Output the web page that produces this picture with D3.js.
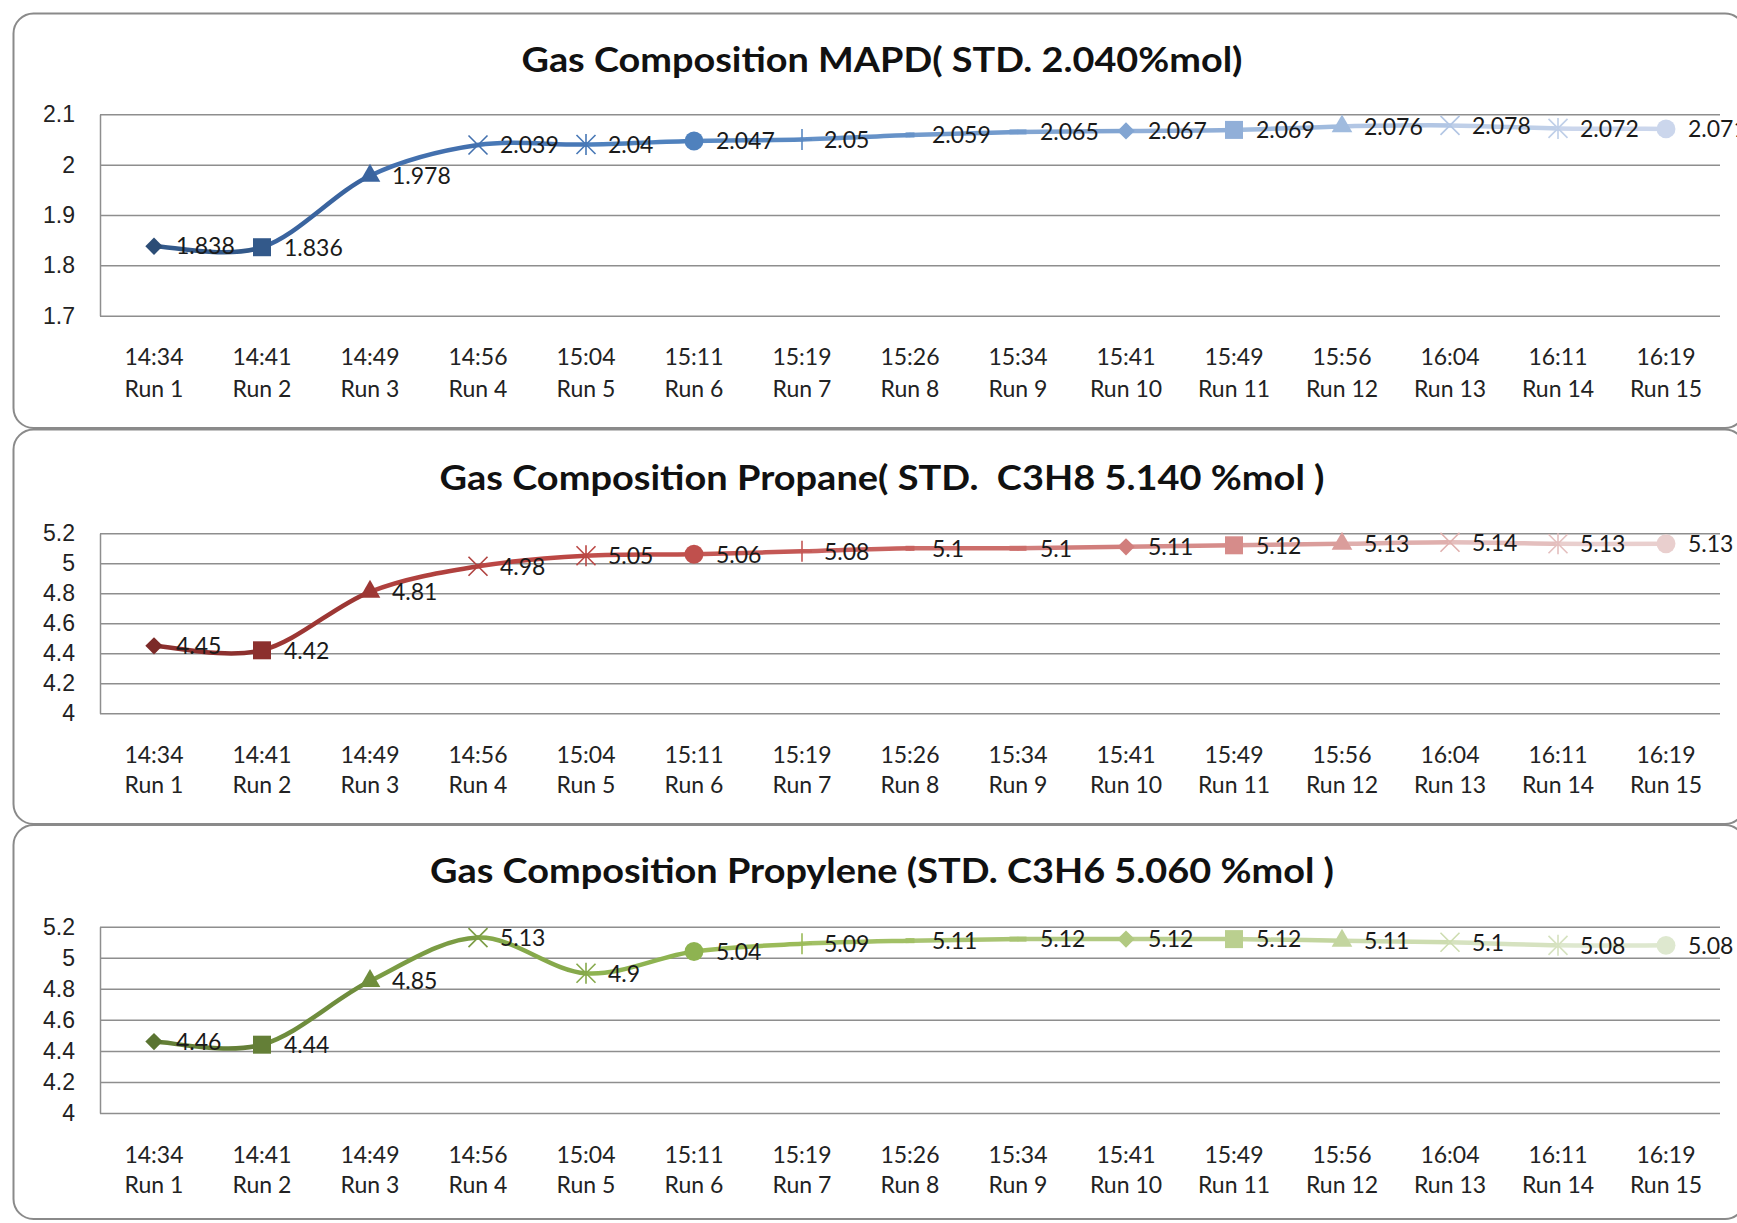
<!DOCTYPE html>
<html>
<head>
<meta charset="utf-8">
<script src="https://cdnjs.cloudflare.com/ajax/libs/d3/7.8.5/d3.min.js"></script>
<style>
    html, body { margin: 0; padding: 0; background: #fff; overflow: hidden; }
    svg { display: block; font-family: Lato, "Open Sans", sans-serif; }
    .grid line { stroke: #8e8e8e; stroke-width: 1.5; }
    .grid path { stroke: #8e8e8e; stroke-width: 1.5; }
    .grid text { fill: #222; font-size: 23px; }
</style>
</head>
<body>
<svg></svg>
<script>
// chart data
const times = ["14:34", "14:41", "14:49", "14:56", "15:04", "15:11", "15:19", "15:26",
    "15:34", "15:41", "15:49", "15:56", "16:04", "16:11", "16:19"];
const runs = ["Run 1", "Run 2", "Run 3", "Run 4", "Run 5", "Run 6", "Run 7", "Run 8",
    "Run 9", "Run 10", "Run 11", "Run 12", "Run 13", "Run 14", "Run 15"];

const mapdValues = [1.838, 1.836, 1.978, 2.039, 2.04, 2.047, 2.05, 2.059,
    2.065, 2.067, 2.069, 2.076, 2.078, 2.072, 2.071];
const propaneValues = [4.45, 4.42, 4.81, 4.98, 5.05, 5.06, 5.08, 5.1,
    5.1, 5.11, 5.12, 5.13, 5.14, 5.13, 5.13];
const propyleneValues = [4.46, 4.44, 4.85, 5.13, 4.9, 5.04, 5.09, 5.11,
    5.12, 5.12, 5.12, 5.11, 5.1, 5.08, 5.08];

const mapdTicks = [1.7, 1.8, 1.9, 2, 2.1];
const gasTicks = [4, 4.2, 4.4, 4.6, 4.8, 5, 5.2];

const mapdTitle = "Gas Composition MAPD( STD. 2.040%mol)";
const propaneTitle = "Gas Composition Propane( STD.  C3H8 5.140 %mol )";
const propyleneTitle = "Gas Composition Propylene (STD. C3H6 5.060 %mol )";

// excel style marker cycle and "vary colors by point" palettes
const markerTypes = ["diamond", "square", "triangle", "x", "star", "circle", "plus", "dash",
    "longdash", "diamond", "square", "triangle", "x", "star", "circle"];

const bluePalette = ["#2c4d76", "#33598a", "#3a649f", "#4370ae", "#4878b6", "#4f81bd", "#5a89c2",
    "#6692c8", "#739bcd", "#82a5d2", "#91afd8", "#a0bbde", "#b2c6e4", "#bfcfe8", "#cbd6ec"];
const redPalette = ["#7c2a28", "#8c302e", "#9d3734", "#b0413e", "#bb4744", "#c0504d", "#c45855",
    "#c8625f", "#cc6e6b", "#d17e7c", "#d68c8a", "#da9d9b", "#dfafad", "#e4bfbe", "#e9cfce"];
const greenPalette = ["#5a7431", "#647f37", "#6f8d3d", "#7b9c44", "#86a94b", "#8eb351", "#9bbb59",
    "#a2c066", "#a9c473", "#b1c981", "#bacf8f", "#c3d59f", "#cddcb0", "#d6e2c0", "#dee8cf"];

let width = 1737;
let height = 1223;

let svg = d3.select("svg")
    .attr("width", width)
    .attr("height", height);

// x positions shared by the three panels
let x = d3.scalePoint()
    .domain(runs)
    .range([100, 1720])
    .padding(0.5);

let panels = [
    { title: mapdTitle, titleLen: 721, values: mapdValues, ticks: mapdTicks, palette: bluePalette,
      top: 13.5, bottom: 428, plotTop: 114.3, plotBottom: 315.7, titleY: 72, timeY: 365, runY: 397 },
    { title: propaneTitle, titleLen: 885, values: propaneValues, ticks: gasTicks, palette: redPalette,
      top: 429.5, bottom: 824, plotTop: 533.3, plotBottom: 713.3, titleY: 490, timeY: 763, runY: 793 },
    { title: propyleneTitle, titleLen: 904, values: propyleneValues, ticks: gasTicks, palette: greenPalette,
      top: 825, bottom: 1219, plotTop: 926.7, plotBottom: 1113, titleY: 883, timeY: 1163, runY: 1193 }
];

panels.forEach(drawPanel);

function drawPanel(p) {
    let group = svg.append("g");

    // rounded frame
    group.append("rect")
        .attr("x", 13.5)
        .attr("y", p.top)
        .attr("width", 1745 - 13.5)
        .attr("height", p.bottom - p.top)
        .attr("rx", 20)
        .attr("fill", "#fff")
        .attr("stroke", "#8a8a8a")
        .attr("stroke-width", 2);

    group.append("text")
        .attr("x", 882)
        .attr("y", p.titleY)
        .attr("text-anchor", "middle")
        .attr("textLength", p.titleLen)
        .attr("lengthAdjust", "spacingAndGlyphs")
        .style("white-space", "pre")
        .style("font-weight", "bold")
        .style("font-size", "35px")
        .attr("fill", "#111")
        .text(p.title);

    let y = d3.scaleLinear()
        .domain([d3.min(p.ticks), d3.max(p.ticks)])
        .range([p.plotBottom, p.plotTop]);

    // gridlines + y labels
    group.append("g")
        .attr("class", "grid")
        .attr("transform", "translate(100,0)")
        .call(d3.axisLeft(y)
            .tickValues(p.ticks)
            .tickSize(-1620)
            .tickSizeOuter(0)
            .tickPadding(25)
            .tickFormat(d3.format("~g")));

    // category labels
    let cats = group.append("g")
        .selectAll("text")
        .data(runs)
        .enter()
        .append("text")
        .attr("text-anchor", "middle")
        .attr("fill", "#222")
        .style("font-size", "23px");
    cats.append("tspan")
        .attr("x", d => x(d))
        .attr("y", p.timeY)
        .text((d, i) => times[i]);
    cats.append("tspan")
        .attr("x", d => x(d))
        .attr("y", p.runY)
        .text(d => d);

    let pts = p.values.map((v, i) => [x(runs[i]), y(v)]);
    let n = pts.length;

    // smoothed line, one segment per point so each takes that point's colour
    for (let i = 0; i < n - 1; i++) {
        let p0 = pts[Math.max(i - 1, 0)], p1 = pts[i], p2 = pts[i + 1], p3 = pts[Math.min(i + 2, n - 1)];
        let seg = d3.path();
        seg.moveTo(p1[0], p1[1]);
        seg.bezierCurveTo(
            p1[0] + (p2[0] - p0[0]) / 6, p1[1] + (p2[1] - p0[1]) / 6,
            p2[0] - (p3[0] - p1[0]) / 6, p2[1] - (p3[1] - p1[1]) / 6,
            p2[0], p2[1]);
        group.append("path")
            .attr("d", seg.toString())
            .attr("fill", "none")
            .attr("stroke", p.palette[i + 1])
            .attr("stroke-width", 4.5)
            .attr("stroke-linecap", "round");
    }

    // markers
    pts.forEach((pt, i) => {
        let m = group.append("g").attr("transform", "translate(" + pt[0] + "," + pt[1] + ")");
        drawMarker(m, markerTypes[i], p.palette[i]);
    });

    // data labels, right of the point
    group.append("g")
        .selectAll("text")
        .data(p.values)
        .enter()
        .append("text")
        .attr("x", (d, i) => pts[i][0] + 22)
        .attr("y", (d, i) => pts[i][1])
        .attr("dy", "0.36em")
        .attr("fill", "#1a1a1a")
        .style("font-size", "23px")
        .text(d => String(d));
}

function drawMarker(m, type, color) {
    if (type === "diamond") {
        m.append("path").attr("d", d3.symbol(d3.symbolSquare, 150)())
            .attr("transform", "rotate(45)").attr("fill", color);
    } else if (type === "square") {
        m.append("path").attr("d", d3.symbol(d3.symbolSquare, 18 * 18)()).attr("fill", color);
    } else if (type === "triangle") {
        m.append("path").attr("d", d3.symbol(d3.symbolTriangle, 185)()).attr("fill", color);
    } else if (type === "circle") {
        m.append("path").attr("d", d3.symbol(d3.symbolCircle, 280)()).attr("fill", color);
    } else if (type === "dash" || type === "longdash") {
        let w = type === "dash" ? 9 : 17;
        m.append("rect").attr("x", -w / 2).attr("y", -2.5).attr("width", w).attr("height", 5).attr("fill", color);
    } else {
        let s = d3.path();
        if (type === "x" || type === "star") {
            s.moveTo(-9.5, -9.5); s.lineTo(9.5, 9.5);
            s.moveTo(-9.5, 9.5); s.lineTo(9.5, -9.5);
        }
        if (type === "star" || type === "plus") {
            s.moveTo(0, -10.5); s.lineTo(0, 10.5);
        }
        if (type === "plus") {
            s.moveTo(-10, 0); s.lineTo(10, 0);
        }
        m.append("path").attr("d", s.toString())
            .attr("fill", "none").attr("stroke", color).attr("stroke-width", 1.6);
    }
}
</script>
</body>
</html>
